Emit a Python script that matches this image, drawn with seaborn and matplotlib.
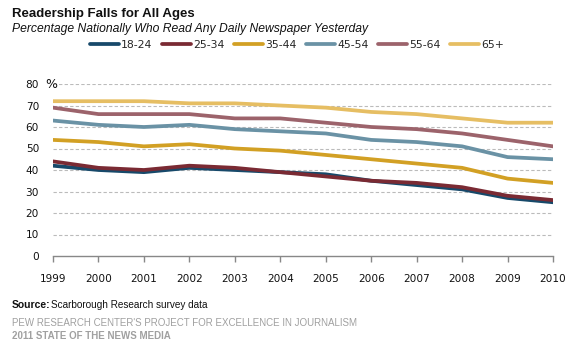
import matplotlib
matplotlib.use("Agg")
import matplotlib.pyplot as plt
import seaborn as sns
import pandas as pd
from matplotlib.lines import Line2D

years = list(range(1999, 2011))
age_18_24 = [42, 40, 39, 41, 40, 39, 38, 35, 33, 31, 27, 25]
age_25_34 = [44, 41, 40, 42, 41, 39, 37, 35, 34, 32, 28, 26]
age_35_44 = [54, 53, 51, 52, 50, 49, 47, 45, 43, 41, 36, 34]
age_45_54 = [63, 61, 60, 61, 59, 58, 57, 54, 53, 51, 46, 45]
age_55_64 = [69, 66, 66, 66, 64, 64, 62, 60, 59, 57, 54, 51]
age_65_plus = [72, 72, 72, 71, 71, 70, 69, 67, 66, 64, 62, 62]

groups = ["18-24", "25-34", "35-44", "45-54", "55-64", "65+"]
series = [age_18_24, age_25_34, age_35_44, age_45_54, age_55_64, age_65_plus]
colors = ["#17496A", "#7A2A33", "#D2A024", "#6A92A5", "#9C636B", "#E6BE63"]
y_ticks = [0, 10, 20, 30, 40, 50, 60, 70, 80]

df = pd.DataFrame(
    [(y, g, v) for g, vals in zip(groups, series) for y, v in zip(years, vals)],
    columns=["year", "group", "pct"],
)

sns.set_theme(style="white")
plt.rcParams["font.family"] = ["DejaVu Sans"]

fig = plt.figure(figsize=(5.76, 3.46), dpi=100)
ax = fig.add_axes([53 / 576, 1 - 256 / 346, 500 / 576, 172 / 346])

sns.lineplot(data=df, x="year", y="pct", hue="group", hue_order=groups,
             palette=colors, linewidth=2.7, legend=False, ax=ax)

ax.set_xlim(1999, 2010)
ax.set_ylim(0, 80)
ax.set_xticks(years)
ax.set_xticklabels([str(y) for y in years], fontsize=7.6, color="#111111")
ax.set_yticks(y_ticks)
ax.set_yticklabels([str(t) for t in y_ticks], fontsize=7.6, color="#111111")
ax.set_xlabel("")
ax.set_ylabel("")

for t in y_ticks[1:]:
    ax.axhline(t, color="#BBBBBB", lw=0.8, ls=(0, (3, 2)), zorder=0)

for side in ["top", "right", "left"]:
    ax.spines[side].set_visible(False)
ax.spines["bottom"].set_color("#888888")
ax.spines["bottom"].set_linewidth(1.0)
ax.tick_params(axis="x", which="major", direction="out", length=4, width=1,
               color="#888888", pad=9, bottom=True)
ax.tick_params(axis="y", length=0, pad=10)

ax.text(1998.84, 80, "%", fontsize=9, color="#111111", ha="left", va="center",
        clip_on=False)

handles = [Line2D([0], [0], color=c, lw=2.7) for c in colors]
fig.legend(handles, groups, loc="center", bbox_to_anchor=(0.516, 1 - 45 / 346),
           ncol=6, frameon=False, fontsize=7.8, handlelength=2.6,
           handletextpad=0.25, columnspacing=0.9)

fig.text(12 / 576, 1 - 14 / 346, "Readership Falls for All Ages",
         fontsize=9.5, fontweight="bold", family="Liberation Sans",
         color="#111111", va="center")
fig.text(12 / 576, 1 - 29 / 346,
         "Percentage Nationally Who Read Any Daily Newspaper Yesterday",
         fontsize=8.7, style="italic", family="Liberation Sans",
         color="#111111", va="center")

fig.text(12 / 576, 1 - 305 / 346, "Source:", fontsize=7.5, fontweight="bold",
         family="Liberation Sans", color="#111111", va="center")
fig.text(51 / 576, 1 - 305 / 346, "Scarborough Research survey data",
         fontsize=7.2, family="Liberation Sans", color="#111111", va="center")
fig.text(12 / 576, 1 - 323 / 346,
         "PEW RESEARCH CENTER'S PROJECT FOR EXCELLENCE IN JOURNALISM",
         fontsize=7.0, family="Liberation Sans", color="#A0A0A0", va="center")
fig.text(12 / 576, 1 - 336 / 346, "2011 STATE OF THE NEWS MEDIA",
         fontsize=7.0, fontweight="bold", family="Liberation Sans",
         color="#A0A0A0", va="center")

fig.savefig("out.png", dpi=100)
